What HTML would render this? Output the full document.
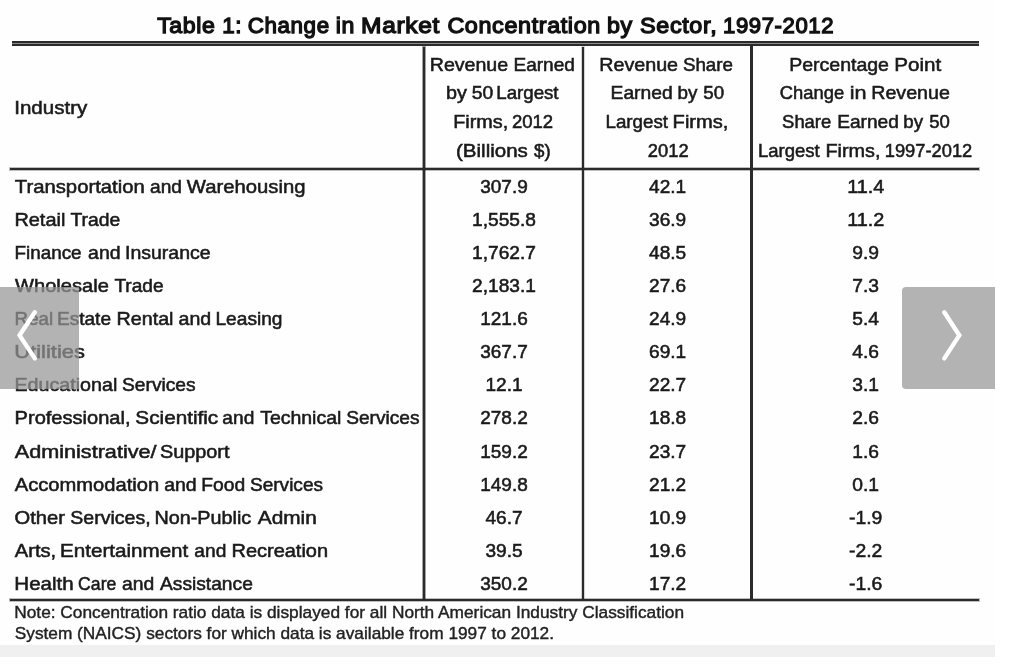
<!DOCTYPE html>
<html lang="en">
<head>
<meta charset="utf-8">
<title>Table 1: Change in Market Concentration by Sector, 1997-2012</title>
<style>
html,body{margin:0;padding:0;background:#fff;}
body{width:1024px;height:668px;position:relative;overflow:hidden;font-family:"Liberation Sans",sans-serif;color:#1a1a1a;}
#fig{position:absolute;left:0;top:0;width:995px;height:657px;background:#fefefe;overflow:hidden;}
h1,p{margin:0;padding:0;font-weight:normal;font-size:inherit;}
.t{position:absolute;left:0;white-space:pre;line-height:21px;transform-origin:0 0;font-size:18.5px;-webkit-text-stroke:0.55px #1a1a1a;}
h1 .t{font-size:22.6px;line-height:25px;-webkit-text-stroke:1.3px #111;color:#111;letter-spacing:0.6px;}
.n .t{font-size:17.0px;line-height:19px;-webkit-text-stroke:0.4px #222;color:#222;}
.r{position:absolute;background:#2b2b2b;}
.f2{box-shadow:0 0 0 1px rgba(30,30,30,0.18);}
.f3{box-shadow:0 0 0 1px rgba(30,30,30,0.28);}
.f4{box-shadow:0 0 0 1px rgba(30,30,30,0.4);}
#band{position:absolute;left:0;top:645px;width:995px;height:12px;background:#f0f0f0;}
.nav{position:absolute;top:287px;height:102px;background:rgba(150,150,150,0.72);}
.nav svg{position:absolute;left:0;top:0;}
</style>
</head>
<body>
<div id="fig">
<div class="r" style="left:12px;top:41px;width:967px;height:2px"></div>
<div class="r" style="left:12px;top:43px;width:967px;height:1px;background:#8a8a8a"></div>
<div class="r" style="left:12px;top:44px;width:967px;height:2px"></div>
<div class="r f3" style="left:10px;top:168px;width:969px;height:2px"></div>
<div class="r f3" style="left:10px;top:599px;width:969px;height:2px"></div>
<div class="r f4" style="left:423px;top:47px;width:2px;height:552px"></div>
<div class="r f2" style="left:582px;top:47px;width:2px;height:552px"></div>
<div class="r" style="left:750px;top:46px;width:3px;height:554px"></div>
<h1><span class="t" style="top:13px;transform:translateX(157.17px) scaleX(1.0220)">Table</span> <span class="t" style="top:13px;transform:translateX(222.16px) scaleX(0.9896)">1:</span> <span class="t" style="top:13px;transform:translateX(247.76px) scaleX(0.9901)">Change</span> <span class="t" style="top:13px;transform:translateX(335.81px) scaleX(1.0224)">in</span> <span class="t" style="top:13px;transform:translateX(361.09px) scaleX(1.0847)">Market</span> <span class="t" style="top:13px;transform:translateX(447.38px) scaleX(1.0340)">Concentration</span> <span class="t" style="top:13px;transform:translateX(606.95px) scaleX(1.0292)">by</span> <span class="t" style="top:13px;transform:translateX(640.08px) scaleX(1.0354)">Sector,</span> <span class="t" style="top:13px;transform:translateX(722.99px) scaleX(0.9796)">1997-2012</span></h1>
<div class="th"><span class="t" style="top:97px;transform:translateX(14.26px) scaleX(1.1090)">Industry</span></div>
<div class="th"><span class="t" style="top:54px;transform:translateX(429.76px) scaleX(1.0583)">Revenue</span> <span class="t" style="top:54px;transform:translateX(513.44px) scaleX(1.0301)">Earned</span> <span class="t" style="top:82px;transform:translateX(446.05px) scaleX(1.0685)">by</span> <span class="t" style="top:82px;transform:translateX(471.74px) scaleX(1.0445)">50</span> <span class="t" style="top:82px;transform:translateX(496.25px) scaleX(1.0098)">Largest</span> <span class="t" style="top:111px;transform:translateX(453.22px) scaleX(1.0707)">Firms,</span> <span class="t" style="top:111px;transform:translateX(511.89px) scaleX(1.0018)">2012</span> <span class="t" style="top:140px;transform:translateX(456.03px) scaleX(1.1085)">(Billions</span> <span class="t" style="top:140px;transform:translateX(534.05px) scaleX(1.0105)">$)</span></div>
<div class="th"><span class="t" style="top:54px;transform:translateX(599.22px) scaleX(1.0647)">Revenue</span> <span class="t" style="top:54px;transform:translateX(682.90px) scaleX(1.0135)">Share</span> <span class="t" style="top:82px;transform:translateX(610.56px) scaleX(1.0412)">Earned</span> <span class="t" style="top:82px;transform:translateX(677.51px) scaleX(1.0186)">by</span> <span class="t" style="top:82px;transform:translateX(703.35px) scaleX(1.0129)">50</span> <span class="t" style="top:111px;transform:translateX(605.49px) scaleX(1.0123)">Largest</span> <span class="t" style="top:111px;transform:translateX(672.62px) scaleX(1.0850)">Firms,</span> <span class="t" style="top:140px;transform:translateX(647.84px) scaleX(0.9901)">2012</span></div>
<div class="th"><span class="t" style="top:54px;transform:translateX(789.18px) scaleX(1.0542)">Percentage</span> <span class="t" style="top:54px;transform:translateX(894.25px) scaleX(1.1155)">Point</span> <span class="t" style="top:82px;transform:translateX(779.83px) scaleX(0.9917)">Change</span> <span class="t" style="top:82px;transform:translateX(849.79px) scaleX(1.1683)">in</span> <span class="t" style="top:82px;transform:translateX(871.25px) scaleX(1.0616)">Revenue</span> <span class="t" style="top:111px;transform:translateX(782.10px) scaleX(0.9948)">Share</span> <span class="t" style="top:111px;transform:translateX(837.16px) scaleX(1.0332)">Earned</span> <span class="t" style="top:111px;transform:translateX(903.28px) scaleX(1.0088)">by</span> <span class="t" style="top:111px;transform:translateX(929.22px) scaleX(1.0024)">50</span> <span class="t" style="top:140px;transform:translateX(758.03px) scaleX(1.0004)">Largest</span> <span class="t" style="top:140px;transform:translateX(825.48px) scaleX(1.0710)">Firms,</span> <span class="t" style="top:140px;transform:translateX(884.74px) scaleX(0.9892)">1997-2012</span></div>
<div class="tr">
<div class="td"><span class="t" style="top:176px;transform:translateX(14.79px) scaleX(1.0960)">Transportation</span> <span class="t" style="top:176px;transform:translateX(150.05px) scaleX(1.0338)">and</span> <span class="t" style="top:176px;transform:translateX(186.87px) scaleX(1.0945)">Warehousing</span></div>
<div class="td num"><span class="t" style="top:176px;transform:translateX(480.23px) scaleX(1.0269)">307.9</span></div>
<div class="td num"><span class="t" style="top:176px;transform:translateX(649.03px) scaleX(1.0315)">42.1</span></div>
<div class="td num"><span class="t" style="top:176px;transform:translateX(847.13px) scaleX(1.0724)">11.4</span></div>
</div>
<div class="tr">
<div class="td"><span class="t" style="top:209px;transform:translateX(14.39px) scaleX(1.0764)">Retail</span> <span class="t" style="top:209px;transform:translateX(70.42px) scaleX(1.0438)">Trade</span></div>
<div class="td num"><span class="t" style="top:209px;transform:translateX(472.06px) scaleX(1.0349)">1,555.8</span></div>
<div class="td num"><span class="t" style="top:209px;transform:translateX(649.03px) scaleX(1.0315)">36.9</span></div>
<div class="td num"><span class="t" style="top:209px;transform:translateX(847.13px) scaleX(1.0724)">11.2</span></div>
</div>
<div class="tr">
<div class="td"><span class="t" style="top:242px;transform:translateX(14.47px) scaleX(1.0193)">Finance</span> <span class="t" style="top:242px;transform:translateX(88.07px) scaleX(1.0505)">and</span> <span class="t" style="top:242px;transform:translateX(125.05px) scaleX(1.0526)">Insurance</span></div>
<div class="td num"><span class="t" style="top:242px;transform:translateX(472.06px) scaleX(1.0349)">1,762.7</span></div>
<div class="td num"><span class="t" style="top:242px;transform:translateX(649.03px) scaleX(1.0315)">48.5</span></div>
<div class="td num"><span class="t" style="top:242px;transform:translateX(852.33px) scaleX(1.0398)">9.9</span></div>
</div>
<div class="tr">
<div class="td"><span class="t" style="top:275px;transform:translateX(15.02px) scaleX(1.0863)">Wholesale</span> <span class="t" style="top:275px;transform:translateX(114.40px) scaleX(1.0307)">Trade</span></div>
<div class="td num"><span class="t" style="top:275px;transform:translateX(472.06px) scaleX(1.0349)">2,183.1</span></div>
<div class="td num"><span class="t" style="top:275px;transform:translateX(649.03px) scaleX(1.0315)">27.6</span></div>
<div class="td num"><span class="t" style="top:275px;transform:translateX(852.33px) scaleX(1.0398)">7.3</span></div>
</div>
<div class="tr">
<div class="td"><span class="t" style="top:308px;transform:translateX(14.61px) scaleX(1.0119)">Real</span> <span class="t" style="top:308px;transform:translateX(56.95px) scaleX(1.0303)">Estate</span> <span class="t" style="top:308px;transform:translateX(116.47px) scaleX(1.0665)">Rental</span> <span class="t" style="top:308px;transform:translateX(178.57px) scaleX(1.0575)">and</span> <span class="t" style="top:308px;transform:translateX(215.46px) scaleX(1.0344)">Leasing</span></div>
<div class="td num"><span class="t" style="top:308px;transform:translateX(480.23px) scaleX(1.0269)">121.6</span></div>
<div class="td num"><span class="t" style="top:308px;transform:translateX(649.03px) scaleX(1.0315)">24.9</span></div>
<div class="td num"><span class="t" style="top:308px;transform:translateX(852.33px) scaleX(1.0398)">5.4</span></div>
</div>
<div class="tr">
<div class="td"><span class="t" style="top:341px;transform:translateX(14.37px) scaleX(1.1832)">Utilities</span></div>
<div class="td num"><span class="t" style="top:341px;transform:translateX(480.23px) scaleX(1.0269)">367.7</span></div>
<div class="td num"><span class="t" style="top:341px;transform:translateX(649.03px) scaleX(1.0315)">69.1</span></div>
<div class="td num"><span class="t" style="top:341px;transform:translateX(852.33px) scaleX(1.0398)">4.6</span></div>
</div>
<div class="tr">
<div class="td"><span class="t" style="top:374px;transform:translateX(14.38px) scaleX(1.0649)">Educational</span> <span class="t" style="top:374px;transform:translateX(122.01px) scaleX(1.0374)">Services</span></div>
<div class="td num"><span class="t" style="top:374px;transform:translateX(485.43px) scaleX(1.0315)">12.1</span></div>
<div class="td num"><span class="t" style="top:374px;transform:translateX(649.03px) scaleX(1.0315)">22.7</span></div>
<div class="td num"><span class="t" style="top:374px;transform:translateX(852.33px) scaleX(1.0398)">3.1</span></div>
</div>
<div class="tr">
<div class="td"><span class="t" style="top:407px;transform:translateX(14.59px) scaleX(1.0840)">Professional,</span> <span class="t" style="top:407px;transform:translateX(135.36px) scaleX(1.1193)">Scientific</span> <span class="t" style="top:407px;transform:translateX(222.34px) scaleX(1.0351)">and</span> <span class="t" style="top:407px;transform:translateX(260.16px) scaleX(1.0523)">Technical</span> <span class="t" style="top:407px;transform:translateX(346.17px) scaleX(1.0335)">Services</span></div>
<div class="td num"><span class="t" style="top:407px;transform:translateX(480.23px) scaleX(1.0269)">278.2</span></div>
<div class="td num"><span class="t" style="top:407px;transform:translateX(649.03px) scaleX(1.0315)">18.8</span></div>
<div class="td num"><span class="t" style="top:407px;transform:translateX(852.33px) scaleX(1.0398)">2.6</span></div>
</div>
<div class="tr">
<div class="td"><span class="t" style="top:441px;transform:translateX(14.79px) scaleX(1.1683)">Administrative/</span> <span class="t" style="top:441px;transform:translateX(159.99px) scaleX(1.0724)">Support</span></div>
<div class="td num"><span class="t" style="top:441px;transform:translateX(480.23px) scaleX(1.0269)">159.2</span></div>
<div class="td num"><span class="t" style="top:441px;transform:translateX(649.03px) scaleX(1.0315)">23.7</span></div>
<div class="td num"><span class="t" style="top:441px;transform:translateX(852.33px) scaleX(1.0398)">1.6</span></div>
</div>
<div class="tr">
<div class="td"><span class="t" style="top:474px;transform:translateX(14.76px) scaleX(1.0889)">Accommodation</span> <span class="t" style="top:474px;transform:translateX(164.20px) scaleX(1.0515)">and</span> <span class="t" style="top:474px;transform:translateX(201.29px) scaleX(1.0424)">Food</span> <span class="t" style="top:474px;transform:translateX(249.99px) scaleX(1.0292)">Services</span></div>
<div class="td num"><span class="t" style="top:474px;transform:translateX(480.23px) scaleX(1.0269)">149.8</span></div>
<div class="td num"><span class="t" style="top:474px;transform:translateX(649.03px) scaleX(1.0315)">21.2</span></div>
<div class="td num"><span class="t" style="top:474px;transform:translateX(852.33px) scaleX(1.0398)">0.1</span></div>
</div>
<div class="tr">
<div class="td"><span class="t" style="top:507px;transform:translateX(14.61px) scaleX(1.0886)">Other</span> <span class="t" style="top:507px;transform:translateX(70.30px) scaleX(1.0552)">Services,</span> <span class="t" style="top:507px;transform:translateX(154.48px) scaleX(1.0689)">Non-Public</span> <span class="t" style="top:507px;transform:translateX(257.76px) scaleX(1.1259)">Admin</span></div>
<div class="td num"><span class="t" style="top:507px;transform:translateX(485.43px) scaleX(1.0315)">46.7</span></div>
<div class="td num"><span class="t" style="top:507px;transform:translateX(649.03px) scaleX(1.0315)">10.9</span></div>
<div class="td num"><span class="t" style="top:507px;transform:translateX(849.03px) scaleX(1.0459)">-1.9</span></div>
</div>
<div class="tr">
<div class="td"><span class="t" style="top:540px;transform:translateX(14.85px) scaleX(1.0865)">Arts,</span> <span class="t" style="top:540px;transform:translateX(59.98px) scaleX(1.1140)">Entertainment</span> <span class="t" style="top:540px;transform:translateX(194.34px) scaleX(1.0351)">and</span> <span class="t" style="top:540px;transform:translateX(231.45px) scaleX(1.0800)">Recreation</span></div>
<div class="td num"><span class="t" style="top:540px;transform:translateX(485.43px) scaleX(1.0315)">39.5</span></div>
<div class="td num"><span class="t" style="top:540px;transform:translateX(649.03px) scaleX(1.0315)">19.6</span></div>
<div class="td num"><span class="t" style="top:540px;transform:translateX(849.03px) scaleX(1.0459)">-2.2</span></div>
</div>
<div class="tr">
<div class="td"><span class="t" style="top:573px;transform:translateX(14.33px) scaleX(1.1085)">Health</span> <span class="t" style="top:573px;transform:translateX(78.12px) scaleX(0.9521)">Care</span> <span class="t" style="top:573px;transform:translateX(121.97px) scaleX(1.0442)">and</span> <span class="t" style="top:573px;transform:translateX(160.00px) scaleX(1.0376)">Assistance</span></div>
<div class="td num"><span class="t" style="top:573px;transform:translateX(480.23px) scaleX(1.0269)">350.2</span></div>
<div class="td num"><span class="t" style="top:573px;transform:translateX(649.03px) scaleX(1.0315)">17.2</span></div>
<div class="td num"><span class="t" style="top:573px;transform:translateX(849.03px) scaleX(1.0459)">-1.6</span></div>
</div>
<p class="n"><span class="t" style="top:603px;transform:translateX(14.22px) scaleX(1.0171)">Note: Concentration ratio data is displayed for all North American Industry Classification</span></p>
<p class="n"><span class="t" style="top:624px;transform:translateX(14.74px) scaleX(1.0155)">System (NAICS) sectors for which data is available from 1997 to 2012.</span></p>
<div id="band"></div>
</div>
<div class="nav" role="button" aria-label="Previous" style="left:0;width:79px"><svg width="79" height="102" viewBox="0 0 79 102"><path d="M34.8 25.3 L19.6 48.35 L34.8 71.4" fill="none" stroke="#fff" stroke-width="4.4" stroke-linecap="round" stroke-linejoin="miter"/></svg></div>
<div class="nav" role="button" aria-label="Next" style="left:902px;width:93px;border-radius:4px 0 0 4px"><svg width="93" height="102" viewBox="0 0 93 102"><path d="M42.3 25.3 L57.3 48.35 L42.3 71.4" fill="none" stroke="#fff" stroke-width="4.4" stroke-linecap="round" stroke-linejoin="miter"/></svg></div>
</body>
</html>
